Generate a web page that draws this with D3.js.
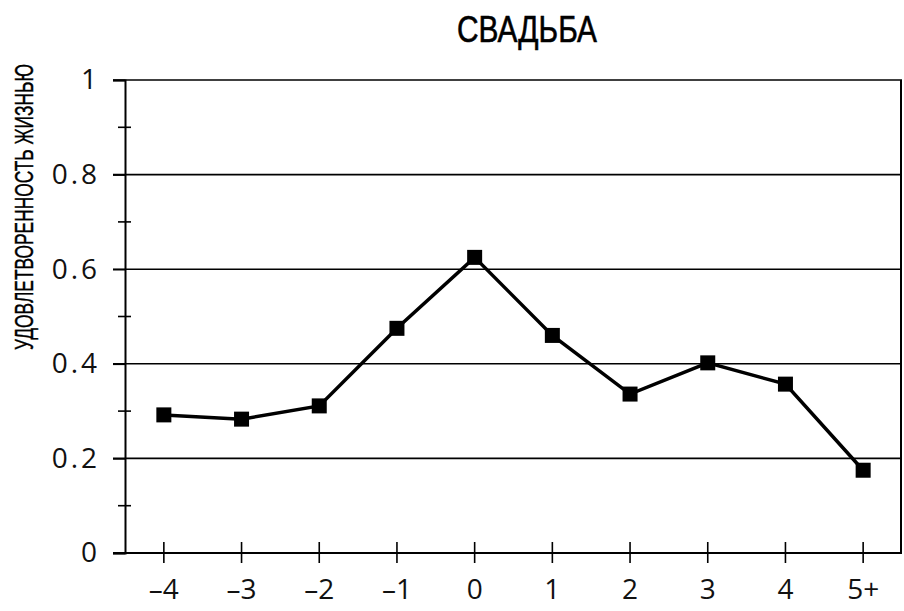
<!DOCTYPE html>
<html>
<head>
<meta charset="utf-8">
<script src="https://cdn.jsdelivr.net/npm/d3@7"></script>
<style>
  body { margin: 0; background: #fff; }
  svg { display: block; }
</style>
</head>
<body>
<div class="chart"></div>
<script>
// data
let years = ["–4", "–3", "–2", "–1", "0", "1", "2", "3", "4", "5+"]
let satisfaction = [0.292, 0.283, 0.311, 0.475, 0.625, 0.460, 0.336, 0.402, 0.357, 0.175]
let majorTicks = [0, 0.2, 0.4, 0.6, 0.8, 1]
let minorTicks = [0.1, 0.3, 0.5, 0.7, 0.9]

let w = 904
let h = 611
let padLeft = 125, padRight = 902, padTop = 80, padBottom = 553

let svg = d3.select(".chart")
  .append("svg")
  .attr("width", w)
  .attr("height", h)

const xScale = d3.scaleBand()
  .domain(years)
  .range([padLeft, padRight])

const yScale = d3.scaleLinear()
  .domain([0, 1])
  .range([padBottom, padTop])

// gridlines at major ticks, from the tick start to the right border
svg.append("g")
  .selectAll("line")
  .data(majorTicks)
  .enter()
  .append("line")
  .attr("x1", padLeft - 12)
  .attr("x2", padRight)
  .attr("y1", d => yScale(d))
  .attr("y2", d => yScale(d))
  .attr("stroke", "#000")
  .attr("stroke-width", 1.6)

// right border
svg.append("line")
  .attr("x1", padRight - 1).attr("x2", padRight - 1)
  .attr("y1", padTop).attr("y2", padBottom)
  .attr("stroke", "#000")
  .attr("stroke-width", 2)

// y axis with major labels
const yAxis = d3.axisLeft(yScale)
  .tickValues(majorTicks)
  .tickSize(12)
  .tickPadding(13)
  .tickFormat(d => d === 0 || d === 1 ? d3.format("d")(d) : d3.format(".1f")(d))

let yg = svg.append("g")
  .attr("transform", "translate(" + padLeft + ",0)")
  .call(yAxis)
yg.select(".domain").attr("stroke-width", 2)
yg.selectAll(".tick line").attr("stroke-width", 1.6)
yg.selectAll("text")
  .style("font-family", "'Open Sans', sans-serif")
  .style("font-size", "28px")
  .style("letter-spacing", "3px")
  .attr("fill", "#111")

// minor ticks crossing the y axis
svg.append("g")
  .selectAll("line")
  .data(minorTicks)
  .enter()
  .append("line")
  .attr("x1", padLeft - 7)
  .attr("x2", padLeft + 6)
  .attr("y1", d => yScale(d))
  .attr("y2", d => yScale(d))
  .attr("stroke", "#000")
  .attr("stroke-width", 1.6)

// x axis, ticks cross the axis line
const xAxis = d3.axisBottom(xScale)
  .tickSizeInner(10)
  .tickSizeOuter(0)
  .tickPadding(16)

let xg = svg.append("g")
  .attr("transform", "translate(0," + padBottom + ")")
  .call(xAxis)
xg.select(".domain").attr("d", "M" + (padLeft - 12) + ",0H" + padRight).attr("stroke-width", 2)
xg.selectAll(".tick line").attr("y1", -11).attr("stroke-width", 1.6)
xg.selectAll("text")
  .style("font-family", "'Open Sans', sans-serif")
  .style("font-size", "28px")
  .attr("fill", "#111")

// the line and square markers
let line = d3.line()
  .x((d, i) => xScale(years[i]) + xScale.bandwidth() / 2)
  .y(d => yScale(d))

svg.append("path")
  .datum(satisfaction)
  .attr("d", line)
  .attr("fill", "none")
  .attr("stroke", "#000")
  .attr("stroke-width", 3.5)

let m = 15
svg.selectAll(".dot")
  .data(satisfaction)
  .enter()
  .append("rect")
  .attr("class", "dot")
  .attr("x", (d, i) => xScale(years[i]) + xScale.bandwidth() / 2 - m / 2)
  .attr("y", d => yScale(d) - m / 2)
  .attr("width", m)
  .attr("height", m)
  .attr("fill", "#000")

// title
svg.append("text")
  .text("СВАДЬБА")
  .attr("x", 527)
  .attr("y", 42)
  .attr("text-anchor", "middle")
  .attr("textLength", 140)
  .attr("lengthAdjust", "spacingAndGlyphs")
  .attr("stroke", "#000")
  .attr("stroke-width", 0.6)
  .style("font-family", "'Liberation Sans Narrow', 'Liberation Sans', sans-serif")
  .style("font-size", "37px")

// y label
svg.append("text")
  .text("УДОВЛЕТВОРЕННОСТЬ ЖИЗНЬЮ")
  .attr("transform", "translate(33,207) rotate(-90)")
  .attr("text-anchor", "middle")
  .attr("textLength", 286)
  .attr("lengthAdjust", "spacingAndGlyphs")
  .attr("stroke", "#000")
  .attr("stroke-width", 0.4)
  .style("font-family", "'Liberation Sans Narrow', 'Liberation Sans', sans-serif")
  .style("font-size", "25px")
</script>
</body>
</html>
